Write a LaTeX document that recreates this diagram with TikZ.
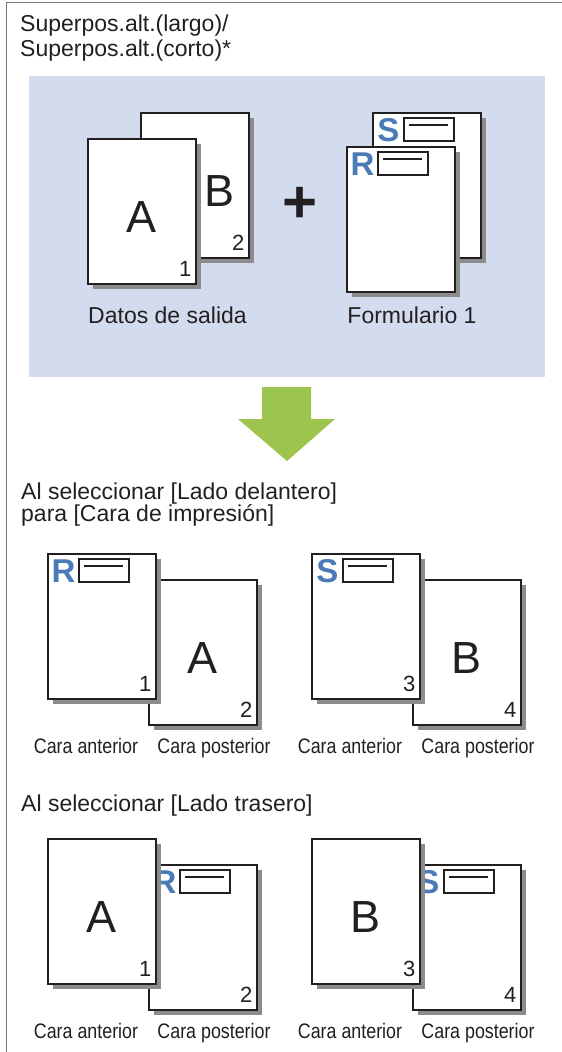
\documentclass[tikz,border=0pt]{standalone}
\usepackage{fontspec}
\setmainfont{Liberation Sans}
\newfontfamily\narrowfont[FakeStretch=0.85]{Liberation Sans}
\usetikzlibrary{shadows}
\definecolor{inkc}{RGB}{35,31,32}
\definecolor{panelc}{RGB}{211,220,238}
\definecolor{markc}{RGB}{74,123,183}
\definecolor{arrowc}{RGB}{157,196,77}
\definecolor{shadowc}{RGB}{140,140,140}
\definecolor{framec}{RGB}{120,120,120}
\begin{document}
\begin{tikzpicture}[x=1pt,y=-1pt,
  every node/.style={text=inkc,inner sep=0pt},
  txt/.style={font=\fontsize{23}{23}\selectfont,anchor=base west},
  sidelabel/.style={font=\narrowfont\fontsize{21}{21}\selectfont,anchor=base},
  sheet/.style={draw=inkc,line width=1.5pt,fill=white,minimum width=108pt,minimum height=145pt,anchor=north west,
    drop shadow={shadow xshift=5.5pt,shadow yshift=-5.5pt,fill=shadowc,opacity=1}},
  big/.style={font=\fontsize{45}{45}\selectfont,anchor=base},
  num/.style={font=\fontsize{22}{22}\selectfont,anchor=base east},
  formletter/.style={font=\bfseries\fontsize{33}{33}\selectfont,text=markc},
  formbox/.style={draw=inkc,line width=1.5pt,fill=white,minimum width=50pt,minimum height=23pt},
  pics/formhead/.style={code={
    \node[formletter] (-l) at (16.5,18.5) {#1};
    \node[formbox] (-b) at (57,17.5) {};
    \draw[inkc,line width=1.5pt] (37,13) -- (76,13);
  }}]
\useasboundingbox (0,0) rectangle (562,1052);
\draw[framec,line width=1pt] (6,1052) -- (6,2) -- (562,2);
% Title
\node[txt] (title1) at (20,31) {Superpos.alt.(largo)/};
\node[txt] (title2) at (20,56) {Superpos.alt.(corto)*};
% Output data + form
\fill[panelc] (29,76) rectangle (545,377);
\node[sheet] (pB) at (140,112) {};
\node[big] (lB) at ([xshift=25pt,yshift=52pt]pB.south) {B};
\node[num] (nB) at ([xshift=-5pt,yshift=8pt]pB.south east) {2};
\node[sheet] (pA) at (87,138) {};
\node[big] (lA) at ([yshift=52pt]pA.south) {A};
\node[num] (nA) at ([xshift=-5pt,yshift=8pt]pA.south east) {1};
\node[font=\bfseries\fontsize{60}{60}\selectfont] (plus) at (300,205) {+};
\node[sheet] (fS) at (372,112) {};
\pic (hS) at (372,112) {formhead=S};
\node[sheet] (fR) at (346,146) {};
\pic (hR) at (346,146) {formhead=R};
\node[txt,anchor=base] (data) at (167.5,323) {Datos de salida};
\node[txt,anchor=base] (form) at (412,323) {Formulario 1};
\fill[arrowc] (262,387) -- (311,387) -- (311,419) -- (335,419) -- (287,461) -- (238,419) -- (262,419) -- cycle;
% Front side
\node[txt] (head1) at (21,499) {Al seleccionar [Lado delantero]};
\node[txt] (head2) at (21,521) {para [Cara de impresión]};
\foreach \dx/\fm/\lt/\nf/\nb/\k in {0/R/A/1/2/a,264/S/B/3/4/b}{
\begin{scope}[xshift=\dx pt]
\node[sheet] (mb\k) at (148,579) {};
\node[big] (ml\k) at ([yshift=52pt]mb\k.south) {\lt};
\node[num] (mnb\k) at ([xshift=-5pt,yshift=8pt]mb\k.south east) {\nb};
\node[sheet] (mf\k) at (47,553) {};
\pic (mh\k) at (47,553) {formhead=\fm};
\node[num] (mnf\k) at ([xshift=-5pt,yshift=8pt]mf\k.south east) {\nf};
\node[sidelabel] (mca\k) at (86,753) {Cara anterior};
\node[sidelabel] (mcp\k) at (214,753) {Cara posterior};
\end{scope}}
% Back side
\node[txt] (head3) at (21,811) {Al seleccionar [Lado trasero]};
\foreach \dx/\fm/\lt/\nf/\nb/\k in {0/R/A/1/2/a,264/S/B/3/4/b}{
\begin{scope}[xshift=\dx pt]
\node[sheet] (rb\k) at (148,864) {};
\pic (rh\k) at (148,864) {formhead=\fm};
\node[num] (rnb\k) at ([xshift=-5pt,yshift=8pt]rb\k.south east) {\nb};
\node[sheet] (rf\k) at (47,838) {};
\node[big] (rl\k) at ([yshift=52pt]rf\k.south) {\lt};
\node[num] (rnf\k) at ([xshift=-5pt,yshift=8pt]rf\k.south east) {\nf};
\node[sidelabel] (rca\k) at (86,1038) {Cara anterior};
\node[sidelabel] (rcp\k) at (214,1038) {Cara posterior};
\end{scope}}
\end{tikzpicture}
\end{document}
